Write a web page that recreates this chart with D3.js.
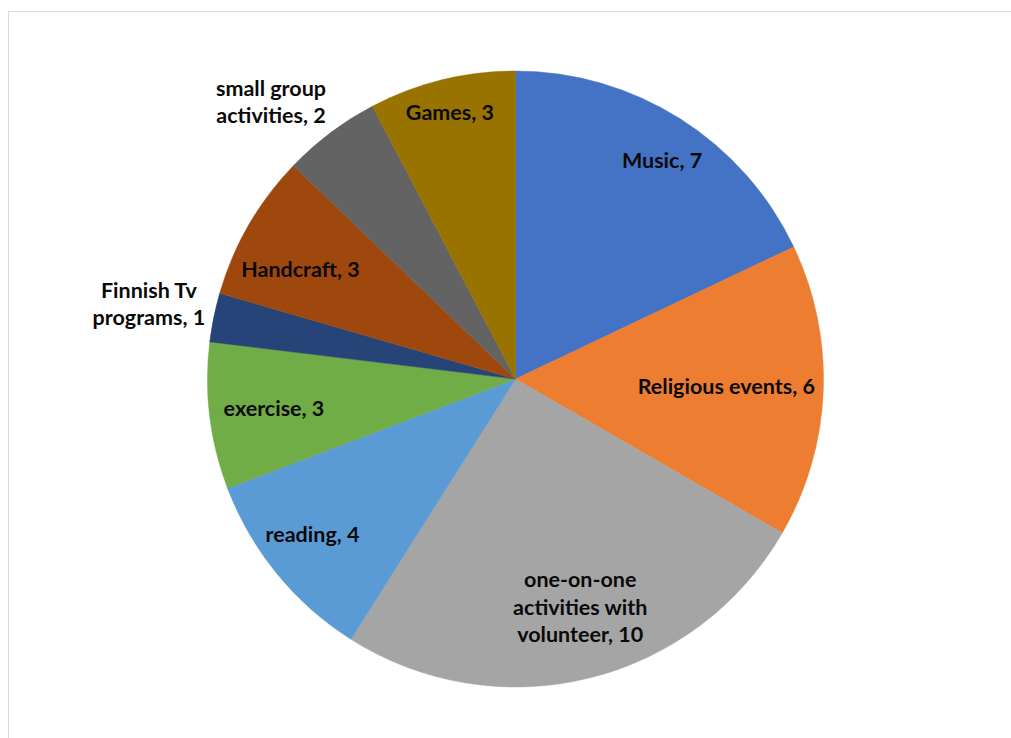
<!DOCTYPE html>
<html><head><meta charset="utf-8">
<script src="https://cdn.jsdelivr.net/npm/d3@7/dist/d3.min.js"></script>
<style>body{margin:0;background:#fff}svg{display:block}</style>
</head><body>
<svg id="chart" width="1011" height="738"></svg>
<script>
// Data
const categories = ["Music", "Religious events", "one-on-one activities with volunteer", "reading", "exercise", "Finnish Tv programs", "Handcraft", "small group activities", "Games"];
const values = [7, 6, 10, 4, 3, 1, 3, 2, 3];
const colors = ["#4472C4", "#ED7D31", "#A5A5A5", "#5B9BD5", "#70AD47", "#264478", "#9E480E", "#636363", "#997300"];
// label text lines
const labelLines = [
  ["Music, 7"],
  ["Religious events, 6"],
  ["one-on-one", "activities with", "volunteer, 10"],
  ["reading, 4"],
  ["exercise, 3"],
  ["Finnish Tv", "programs, 1"],
  ["Handcraft, 3"],
  ["small group", "activities, 2"],
  ["Games, 3"]
];
// layout: label distance as fraction of radius, and angle shift (deg)
const labelRadius = [0.855, 0.685, 0.77, 0.83, 0.79, 1.215, 0.783, 1.2, 0.89];
const labelAngleShift = [1.5, -0.3, -2, 1.8, 0, 0, -3.1, -4.5, 0];

const svg = d3.select("#chart");
const cx = 515.5, cy = 379, R = 308;

// chart border
svg.append("rect").attr("x", 8.5).attr("y", 11.5).attr("width", 1100).attr("height", 800)
  .attr("fill", "none").attr("stroke", "#d9d9d9").attr("stroke-width", 1);

const pie = d3.pie().sort(null).value(d => d);
const arcs = pie(values);
const arc = d3.arc().innerRadius(0).outerRadius(R);

const g = svg.append("g").attr("transform", `translate(${cx},${cy})`);
g.selectAll("path").data(arcs).enter().append("path")
  .attr("d", arc).attr("fill", (d, i) => colors[i])
  .attr("stroke", (d, i) => colors[i]).attr("stroke-width", 0.5);

const lineH = 27.5;
const fs = 21.5;
arcs.forEach((d, i) => {
  const a = (d.startAngle + d.endAngle) / 2 + labelAngleShift[i] * Math.PI / 180;
  const r = labelRadius[i] * R;
  const x = Math.sin(a) * r, y = -Math.cos(a) * r;
  const lines = labelLines[i];
  const t = g.append("text").attr("text-anchor", "middle")
    .attr("font-family", "Lato, 'Open Sans', sans-serif").attr("font-weight", "bold")
    .attr("font-size", fs).attr("fill", "#0a0a0a");
  lines.forEach((ln, k) => {
    t.append("tspan").attr("x", x)
      .attr("y", y + (k - (lines.length - 1) / 2) * lineH)
      .attr("dy", "0.35em").text(ln);
  });
});
</script>
</body></html>
